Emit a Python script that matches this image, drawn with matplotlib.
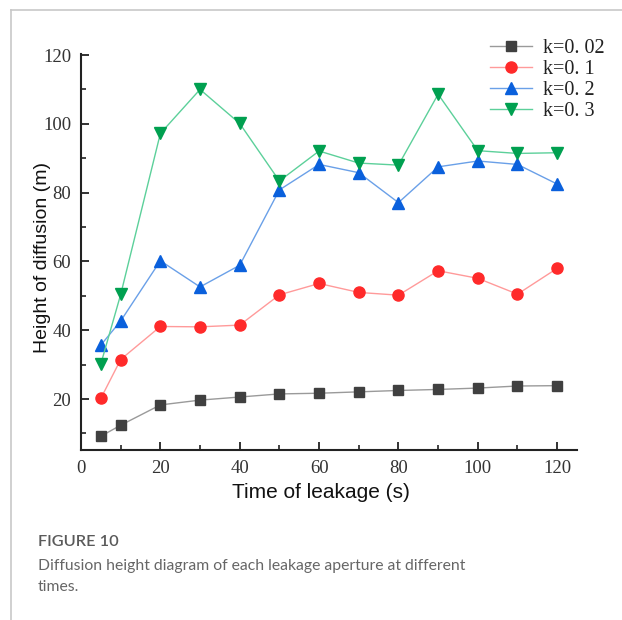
import matplotlib
matplotlib.use("Agg")
import matplotlib.pyplot as plt
from matplotlib.lines import Line2D
from matplotlib.ticker import MultipleLocator

time_s = [5, 10, 20, 30, 40, 50, 60, 70, 80, 90, 100, 110, 120]
k002 = [9.2, 12.4, 18.3, 19.7, 20.6, 21.5, 21.7, 22.1, 22.5, 22.8, 23.2, 23.8, 23.9]
k01 = [20.2, 31.5, 41.1, 41.0, 41.5, 50.3, 53.6, 51.0, 50.2, 57.3, 55.1, 50.5, 58.0]
k02 = [35.7, 42.7, 60.2, 52.6, 58.9, 80.8, 88.2, 85.8, 77.1, 87.5, 89.2, 88.2, 82.5]
k03 = [30.2, 50.4, 97.2, 110.0, 100.1, 83.4, 92.1, 88.6, 88.0, 108.6, 92.2, 91.4, 91.6]
labels = ["k=0. 02", "k=0. 1", "k=0. 2", "k=0. 3"]
x_ticks = [0, 20, 40, 60, 80, 100, 120]
y_ticks = [20, 40, 60, 80, 100, 120]

fig = plt.figure(figsize=(6.22, 6.2), dpi=100)
ax = fig.add_axes([81/622, 1-450/620, (577-81)/622, (450-54)/620])

series = [
    (k002, "#9a9a9a", "#404040", "s", 7),
    (k01, "#ff9a9a", "#ff2a2a", "o", 8),
    (k02, "#6aa0e8", "#0a60dc", "^", 8.5),
    (k03, "#5cd09a", "#00a050", "v", 8.5),
]
for (vals, lc, mc, m, ms), lab in zip(series, labels):
    ax.plot(time_s, vals, color=lc, lw=1.0, marker=m, ms=ms,
            mfc=mc, mec=mc, label=lab, zorder=3)

ax.set_xlim(0, 125)
ax.set_ylim(5.2, 120.3)
ax.set_xticks(x_ticks)
ax.set_yticks(y_ticks)
ax.xaxis.set_minor_locator(MultipleLocator(10))
ax.yaxis.set_minor_locator(MultipleLocator(10))
for s in ["top", "right"]:
    ax.spines[s].set_visible(False)
for s in ["left", "bottom"]:
    ax.spines[s].set_linewidth(1.5)
    ax.spines[s].set_color("#222222")
ax.tick_params(which="major", direction="in", length=6, width=1.3, colors="#222222",
               labelsize=13.5, pad=7)
ax.tick_params(which="minor", direction="in", length=3.5, width=1.2, colors="#222222")
for t in ax.get_xticklabels() + ax.get_yticklabels():
    t.set_fontfamily("Liberation Serif")
    t.set_color("#333333")

ax.set_xlabel("Time of leakage (s)", fontsize=15, family="Liberation Sans", color="#111111")
ax.set_ylabel("Height of diffusion (m)", fontsize=14, family="Liberation Sans", color="#111111")
ax.xaxis.set_label_coords((321-81)/496, -(483-450)/396)
ax.yaxis.set_label_coords((51-81)/496, (450-257.5)/396)

leg = ax.legend(loc="upper left", bbox_to_anchor=(490/622, 1-39/620),
                bbox_transform=fig.transFigure, frameon=False,
                prop={"family": "Liberation Serif", "size": 14.5},
                handlelength=2.07, handletextpad=0.55, labelspacing=0.1,
                borderpad=0, borderaxespad=0)
for t in leg.get_texts():
    t.set_color("#222222")

# frame lines of the page
fig.add_artist(Line2D([11/622, 1.0], [1-9.5/620, 1-9.5/620], color="#c8c8c8", lw=1.2))
fig.add_artist(Line2D([11/622, 11/622], [0, 1-9.5/620], color="#c8c8c8", lw=1.2))

fig.text(38/622, 1-542/620, "FIGURE 10", fontsize=11.8, family="Lato",
         fontweight="semibold", color="#5a5a5a", va="center")
fig.text(38/622, 1-566/620, "Diffusion height diagram of each leakage aperture at different",
         fontsize=11.3, family="Lato", color="#666666", va="center")
fig.text(38/622, 1-587/620, "times.", fontsize=11.3, family="Lato",
         color="#666666", va="center")

fig.savefig("out.png", dpi=100)
